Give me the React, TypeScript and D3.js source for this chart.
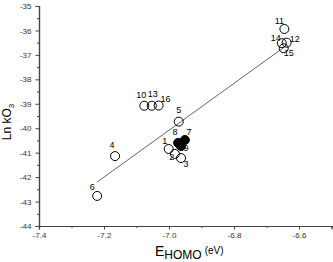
import React, { useEffect, useRef } from "react";
import * as d3 from "d3";

// compound numbers, E_HOMO (eV) and Ln kO3
const ids = ["1", "2", "3", "4", "5", "6", "7", "8", "9", "10", "11", "12", "13", "14", "15", "16"];
const eHomo = [-7.001, -6.982, -6.963, -7.166, -6.970, -7.221, -6.951, -6.972, -6.963, -7.076, -6.645, -6.638, -7.053, -6.653, -6.647, -7.032];
const lnK = [-40.85, -41.05, -41.22, -41.14, -39.73, -42.77, -40.48, -40.60, -40.73, -39.08, -35.94, -36.50, -39.08, -36.52, -36.73, -39.07];
const filledIds = ["7", "8", "9"];

// fitted line end points
const fitX = [-7.222, -6.643];
const fitY = [-42.21, -36.66];

const xTicks = [-7.4, -7.2, -7.0, -6.8, -6.6];
const yTicks = [-44, -43, -42, -41, -40, -39, -38, -37, -36, -35];

// label offsets in px (centre of text relative to circle)
const labelOffset: Record<string, [number, number]> = {
  "1": [-4, -8], "2": [-3, 3], "3": [5, 6], "4": [-3, -11], "5": [0, -11.5],
  "6": [-5, -9], "7": [4, -8.5], "8": [-3, -11], "9": [5, 2], "10": [-3, -11],
  "11": [-5, -8], "12": [8, -4], "13": [1, -12], "14": [-6, -5], "15": [5, 5], "16": [7, -7],
};

const FONT = "'Liberation Sans', Arial, sans-serif";

export default function App() {
  const ref = useRef<SVGSVGElement>(null);

  useEffect(() => {
    const svg = d3.select(ref.current);
    svg.selectAll("*").remove();

    const x = d3.scaleLinear().domain([-7.4, -6.5]).range([39, 331.5]);
    const y = d3.scaleLinear().domain([-44, -35]).range([226, 6]);

    const axisColor = "#444";

    // y axis
    const gy = svg.append("g").attr("transform", "translate(39,0)");
    gy.call(d3.axisLeft(y).tickValues(yTicks).tickSize(3.5).tickPadding(4).tickFormat(d3.format("d")));
    gy.append("g").call(d3.axisLeft(y).tickValues(d3.range(-43.5, -35, 1)).tickSize(2).tickFormat(() => ""));

    // x axis
    const gx = svg.append("g").attr("transform", "translate(0,226)");
    gx.call(d3.axisBottom(x).tickValues(xTicks).tickSize(3.5).tickPadding(3).tickFormat(d3.format(".1f")));
    gx.append("g").call(d3.axisBottom(x).tickValues([-7.3, -7.1, -6.9, -6.7, -6.5]).tickSize(2).tickFormat(() => ""));

    svg.selectAll(".domain").attr("stroke", axisColor).attr("stroke-width", 1.2);
    svg.selectAll(".tick line").attr("stroke", axisColor);
    svg.selectAll(".tick text").attr("fill", "#333").attr("font-size", 8).attr("font-family", FONT)
      .text(function () { return (d3.select(this).text() as string).replace("\u2212", "-"); });

    // regression line
    svg.append("line")
      .attr("x1", x(fitX[0])).attr("y1", y(fitY[0]))
      .attr("x2", x(fitX[1])).attr("y2", y(fitY[1]))
      .attr("stroke", "#666").attr("stroke-width", 1);

    const data = ids.map((id, i) => ({ id, e: eHomo[i], k: lnK[i], filled: filledIds.includes(id) }));

    svg.append("g").selectAll("circle")
      .data(data)
      .join("circle")
      .attr("cx", d => x(d.e))
      .attr("cy", d => y(d.k))
      .attr("r", 4.5)
      .attr("fill", d => d.filled ? "#000" : "none")
      .attr("stroke", "#000")
      .attr("stroke-width", 1);

    svg.append("g").selectAll("text")
      .data(data)
      .join("text")
      .attr("x", d => x(d.e) + labelOffset[d.id][0])
      .attr("y", d => y(d.k) + labelOffset[d.id][1] + 3.2)
      .attr("text-anchor", "middle")
      .attr("font-size", 9)
      .attr("font-family", FONT)
      .attr("fill", "#000")
      .text(d => d.id);

    // axis titles
    const yl = svg.append("text")
      .attr("transform", "translate(11,122) rotate(-90)")
      .attr("text-anchor", "middle")
      .attr("font-family", FONT)
      .attr("font-size", 12)
      .attr("fill", "#000");
    yl.append("tspan").text("Ln kO");
    yl.append("tspan").attr("font-size", 8).attr("dy", 3).text("3");

    const xl = svg.append("text")
      .attr("x", 155).attr("y", 256)
      .attr("font-family", FONT)
      .attr("fill", "#000");
    xl.append("tspan").attr("font-size", 14).text("E");
    xl.append("tspan").attr("font-size", 12).attr("dy", 3).text("HOMO");
    xl.append("tspan").attr("font-size", 10).attr("dy", -5).attr("dx", 3).text("(eV)");
  }, []);

  return (
    <svg ref={ref} width={333} height={262} style={{ position: "absolute", left: 0, top: 0, background: "#fff" }} />
  );
}
